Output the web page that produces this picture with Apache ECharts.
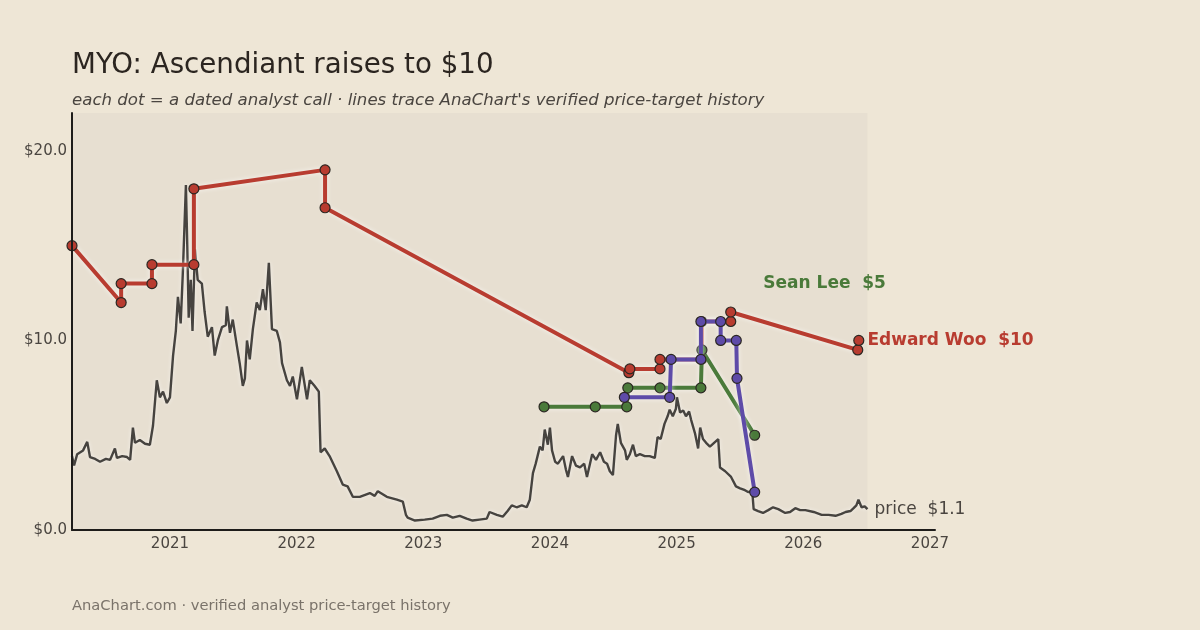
<!DOCTYPE html>
<html>
<head>
<meta charset="utf-8">
<script src="https://cdn.jsdelivr.net/npm/echarts@6/dist/echarts.min.js"></script>
<style>
  html, body { margin: 0; padding: 0; background: #eee6d6; }
  #chart { width: 1200px; height: 630px; }
</style>
</head>
<body>
<div id="chart"></div>
<script>
// daily close
const priceDates = [
  "2020-03-24","2020-03-30","2020-04-08","2020-04-25","2020-05-07","2020-05-15","2020-05-30","2020-06-13","2020-06-30","2020-07-12",
  "2020-07-26","2020-08-01","2020-08-16","2020-08-30","2020-09-08","2020-09-16","2020-09-22","2020-10-06","2020-10-21","2020-11-04",
  "2020-11-13","2020-11-24","2020-12-03","2020-12-12","2020-12-23","2021-01-01","2021-01-10","2021-01-18","2021-01-24","2021-02-01",
  "2021-02-07","2021-02-16","2021-02-20","2021-02-24","2021-03-02","2021-03-07","2021-03-14","2021-03-22","2021-04-03","2021-04-11",
  "2021-04-20","2021-05-02","2021-05-10","2021-05-19","2021-05-31","2021-06-11","2021-06-14","2021-06-23","2021-07-01","2021-07-13",
  "2021-07-21","2021-07-30","2021-08-05","2021-08-11","2021-08-19","2021-08-28","2021-09-08","2021-09-17","2021-09-26","2021-10-04",
  "2021-10-13","2021-10-22","2021-11-05","2021-11-14","2021-11-20","2021-12-04","2021-12-13","2021-12-21","2022-01-02","2022-01-16",
  "2022-01-31","2022-02-08","2022-02-22","2022-03-06","2022-03-11","2022-03-23","2022-04-06","2022-04-27","2022-05-14","2022-05-28",
  "2022-06-12","2022-07-02","2022-07-31","2022-08-14","2022-08-23","2022-09-18","2022-10-17","2022-11-03","2022-11-12","2022-11-17",
  "2022-12-08","2023-01-05","2023-01-28","2023-02-18","2023-03-10","2023-03-27","2023-04-16","2023-05-06","2023-05-23","2023-06-12",
  "2023-07-03","2023-07-11","2023-08-01","2023-08-18","2023-09-01","2023-09-13","2023-09-27","2023-10-12","2023-10-26","2023-11-04",
  "2023-11-13","2023-11-21","2023-12-03","2023-12-11","2023-12-17","2023-12-26","2024-01-01","2024-01-07","2024-01-16","2024-01-24",
  "2024-02-08","2024-02-16","2024-02-22","2024-03-05","2024-03-16","2024-03-28","2024-04-09","2024-04-17","2024-05-02","2024-05-13",
  "2024-05-25","2024-06-05","2024-06-14","2024-06-22","2024-07-01","2024-07-10","2024-07-15","2024-07-24","2024-08-05","2024-08-10",
  "2024-08-19","2024-08-28","2024-09-05","2024-09-17","2024-10-01","2024-10-15","2024-10-30","2024-11-07","2024-11-16","2024-11-27",
  "2024-12-06","2024-12-12","2024-12-21","2024-12-30","2025-01-02","2025-01-11","2025-01-20","2025-01-28","2025-02-06","2025-02-12",
  "2025-02-23","2025-03-04","2025-03-10","2025-03-18","2025-03-27","2025-04-07","2025-04-19","2025-05-01","2025-05-06","2025-05-21",
  "2025-06-07","2025-06-21","2025-07-03","2025-07-17","2025-07-26","2025-08-07","2025-08-11","2025-08-24","2025-09-07","2025-09-22",
  "2025-10-06","2025-10-21","2025-11-10","2025-11-24","2025-12-09","2025-12-23","2026-01-07","2026-01-31","2026-02-23","2026-03-15",
  "2026-04-04","2026-04-21","2026-05-03","2026-05-17","2026-05-26","2026-06-03","2026-06-09","2026-06-18","2026-06-27","2026-07-05"
];
const priceClose = [
  3.9, 3.4, 4.0, 4.2, 4.65, 3.85, 3.75, 3.6, 3.75, 3.7,
  4.3, 3.8, 3.9, 3.85, 3.7, 5.4, 4.6, 4.75, 4.55, 4.5,
  5.5, 7.9, 7.0, 7.3, 6.7, 7.0, 9.2, 10.5, 12.3, 10.9,
  13.5, 18.2, 15.0, 11.2, 13.2, 10.5, 14.8, 13.2, 13.0, 11.5,
  10.2, 10.7, 9.2, 10.0, 10.7, 10.8, 11.8, 10.4, 11.1, 9.7,
  8.8, 7.6, 8.0, 10.0, 9.0, 10.6, 12.0, 11.6, 12.7, 11.6,
  14.1, 10.6, 10.5, 9.9, 8.8, 7.9, 7.6, 8.1, 6.9, 8.6,
  6.9, 7.9, 7.6, 7.3, 4.1, 4.3, 3.9, 3.1, 2.4, 2.3,
  1.75, 1.75, 1.95, 1.8, 2.05, 1.75, 1.6, 1.5, 0.8, 0.65,
  0.5, 0.55, 0.6, 0.75, 0.8, 0.65, 0.75, 0.6, 0.5, 0.55,
  0.6, 0.95, 0.8, 0.7, 1.0, 1.3, 1.2, 1.3, 1.2, 1.6,
  3.0, 3.5, 4.4, 4.2, 5.3, 4.5, 5.4, 4.2, 3.6, 3.5,
  3.9, 3.2, 2.8, 3.9, 3.4, 3.3, 3.5, 2.8, 4.0, 3.7,
  4.1, 3.6, 3.5, 3.1, 2.9, 5.0, 5.6, 4.6, 4.2, 3.7,
  4.0, 4.5, 3.9, 4.0, 3.9, 3.9, 3.8, 4.9, 4.8, 5.6,
  6.0, 6.35, 6.0, 6.4, 7.0, 6.2, 6.3, 6.0, 6.25, 5.8,
  5.1, 4.3, 5.4, 4.8, 4.6, 4.4, 4.6, 4.8, 3.3, 3.1,
  2.8, 2.3, 2.2, 2.1, 2.0, 2.05, 1.1, 1.0, 0.9, 1.05,
  1.2, 1.1, 0.9, 0.95, 1.15, 1.05, 1.05, 0.95, 0.8, 0.8,
  0.75, 0.85, 0.95, 1.0, 1.15, 1.3, 1.6, 1.2, 1.25, 1.1
];

// analyst price-target histories
const wooDates = ["2020-03-24","2020-08-13","2020-08-13","2020-11-10","2020-11-10","2021-03-11","2021-03-11","2022-03-24","2022-03-24",
  "2024-08-16","2024-08-19","2024-11-14","2024-11-14","2025-03-14","2025-03-14","2025-06-06","2025-06-06","2026-06-07","2026-06-10"];
const wooTargets = [15, 12, 13, 13, 14, 14, 18, 19, 17, 8.3, 8.5, 8.5, 9, 9, 11, 11, 11.5, 9.5, 10];

const leeDates = ["2023-12-15","2024-05-11","2024-08-10","2024-08-13","2024-11-14","2025-03-12","2025-03-15","2025-08-14"];
const leeTargets = [6.5, 6.5, 6.5, 7.5, 7.5, 7.5, 9.5, 5];

const thirdDates = ["2024-08-03","2024-12-12","2024-12-16","2025-03-12","2025-03-12","2025-05-08","2025-05-08","2025-06-22","2025-06-24","2025-08-14"];
const thirdTargets = [7, 7, 9, 9, 11, 11, 10, 10, 8, 2];

const yearTicks = [2021, 2022, 2023, 2024, 2025, 2026, 2027];
const priceTicks = [0, 10, 20];

function decYear(s) {
  const [y, m, d] = s.split("-").map(Number);
  const a = Date.UTC(y, 0, 1), b = Date.UTC(y + 1, 0, 1);
  return y + (Date.UTC(y, m - 1, d) - a) / (b - a);
}

const xMin = decYear(priceDates[0]);
const xMax = 2027.04;
const lastPriceX = decYear(priceDates[priceDates.length - 1]);
const lastPrice = priceClose[priceClose.length - 1];

const FONT = "DejaVu Sans";

function analystSeries(name, dates, targets, color, labelText, labelOffset, z) {
  const data = dates.map((d, i) => {
    const item = { value: [decYear(d), targets[i]] };
    if (labelText && i === dates.length - 1) {
      item.label = {
        show: true, position: "right", distance: 3, offset: labelOffset,
        formatter: labelText, color: color, fontFamily: FONT, fontWeight: "bold", fontSize: 17
      };
    }
    return item;
  });
  return {
    name, type: "line", data, z,
    symbol: "circle", symbolSize: 10,
    itemStyle: { color, borderColor: "#2b2722", borderWidth: 1.2 },
    lineStyle: { color, width: 4, shadowColor: "rgba(255,255,255,0.7)", shadowBlur: 5 },
    emphasis: { disabled: true }
  };
}

const chart = echarts.init(document.getElementById("chart"));
chart.setOption({
  animation: false,
  backgroundColor: "#eee6d6",
  textStyle: { fontFamily: FONT },
  title: [
    { text: "MYO: Ascendiant raises to $10", left: 67, top: 47,
      textStyle: { fontFamily: FONT, fontSize: 27.7, fontWeight: "normal", color: "#2b2520" } },
    { text: "each dot = a dated analyst call · lines trace AnaChart's verified price-target history", left: 67, top: 87,
      textStyle: { fontFamily: FONT, fontSize: 16.6, fontStyle: "italic", fontWeight: "normal", color: "#4a4540" } },
    { text: "AnaChart.com · verified analyst price-target history", left: 67, top: 594,
      textStyle: { fontFamily: FONT, fontSize: 14.7, fontWeight: "normal", color: "#7a736a" } }
  ],
  grid: { left: 72, right: 265, top: 113, bottom: 100, containLabel: false, outerBoundsMode: "none" },
  xAxis: {
    type: "value", min: xMin, max: xMax, z: 10,
    axisLine: { show: true, lineStyle: { color: "#1e1c1a", width: 2 } },
    axisTick: { show: false },
    splitLine: { show: false },
    axisLabel: { customValues: yearTicks, formatter: (v) => String(Math.round(v)),
      color: "#4a4540", fontSize: 15, fontFamily: FONT, margin: 7 }
  },
  yAxis: {
    type: "value", min: 0, max: 22, z: 10,
    axisLine: { show: true, lineStyle: { color: "#1e1c1a", width: 2 } },
    axisTick: { show: false },
    splitLine: { show: false },
    axisLabel: { customValues: priceTicks, formatter: (v) => "$" + v.toFixed(1),
      color: "#4a4540", fontSize: 15, fontFamily: FONT, margin: 5, padding: [6, 0, 0, 0] }
  },
  series: [
    {
      name: "price", type: "line", z: 2,
      data: priceDates.map((d, i) => [decYear(d), priceClose[i]]),
      showSymbol: false, symbol: "none",
      lineStyle: { color: "#46433f", width: 2.4, shadowColor: "rgba(255,255,255,0.6)", shadowBlur: 4 },
      emphasis: { disabled: true },
      endLabel: { show: true, formatter: "price  $" + lastPrice.toFixed(1), distance: 7,
        color: "#4a4540", fontSize: 17, fontFamily: FONT },
      markArea: {
        silent: true,
        itemStyle: { color: "#e7dfd1" },
        data: [[{ xAxis: xMin }, { xAxis: lastPriceX }]]
      }
    },
    analystSeries("Edward Woo", wooDates, wooTargets, "#b83c30",
      "Edward Woo  $" + wooTargets[wooTargets.length - 1], [0, 0], 3),
    analystSeries("Sean Lee", leeDates, leeTargets, "#4a7a3a",
      "Sean Lee  $" + leeTargets[leeTargets.length - 1], [0, -152], 4),
    analystSeries("analyst", thirdDates, thirdTargets, "#5e4ba8", null, null, 5)
  ]
});
</script>
</body>
</html>
